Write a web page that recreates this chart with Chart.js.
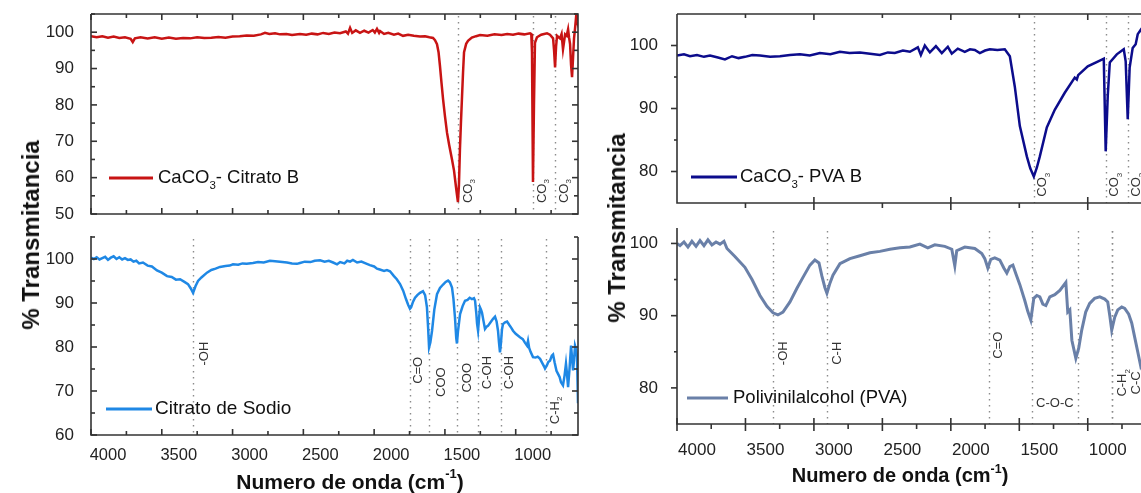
<!DOCTYPE html>
<html>
<head>
<meta charset="utf-8">
<script src="https://cdn.jsdelivr.net/npm/chart.js@4.4.0/dist/chart.umd.min.js"></script>
<style>
html, body { margin: 0; padding: 0; background: #fff; overflow: hidden; width: 1141px; height: 493px; }
body { position: relative; }
canvas { position: absolute; }
.title { position: absolute; font-family: "Liberation Sans", Arial, sans-serif; font-weight: bold; color: #111; white-space: nowrap; line-height: 1; }
.ytitle { transform: translate(-50%, -50%) rotate(-90deg); font-size: 24px; }
.xtitle { transform: translate(-50%, -50%); font-size: 21px; }
.title sup { font-size: 0.62em; position: relative; top: -0.2em; vertical-align: super; }
</style>
</head>
<body>
<canvas id="tl" width="600" height="225" style="left:0;top:0"></canvas>
<canvas id="bl" width="600" height="250" style="left:0;top:225px"></canvas>
<canvas id="tr" width="570" height="225" style="left:600px;top:0"></canvas>
<canvas id="br" width="570" height="260" style="left:600px;top:215px"></canvas>
<div class="title ytitle" style="left:31px;top:235px">% Transmitancia</div>
<div class="title ytitle" style="left:617px;top:228px">% Transmitancia</div>
<div class="title xtitle" style="left:350px;top:481px">Numero de onda (cm<sup>-1</sup>)</div>
<div class="title xtitle" style="left:900px;top:475px;font-size:20px">Numero de onda (cm<sup>-1</sup>)</div>
<script>
'use strict';

// ---- spectra: wavenumber (cm-1) / % transmittance ----
var citratoB_wn = [4000,3960,3920,3880,3840,3800,3760,3720,3705,3690,3650,3600,3550,3500,3450,3400,3350,3300,3250,3200,3150,3100,3050,3000,2950,2900,2850,2800,2771,2740,2700,2665,2620,2580,2524,2480,2440,2400,2360,2320,2280,2241,2200,2185,2170,2155,2130,2100,2070,2040,2010,1995,1980,1965,1958,1930,1900,1860,1830,1796,1760,1720,1676,1640,1610,1584,1570,1556,1545,1535,1524,1513,1500,1485,1470,1450,1436,1422,1414,1408,1401,1394,1387,1380,1372,1365,1350,1337,1310,1280,1252,1200,1150,1100,1060,1019,980,940,899,890,885,878,871,864,850,820,779,758,736,729,722,715,708,697,687,676,666,658,651,640,630,623,616,609,602,595,588,581,574,567,560];
var citratoB_t = [98.9,98.6,98.9,98.5,98.8,98.4,98.6,98.2,97.3,98.3,98.6,98.3,98.6,98.2,98.5,98.2,98.4,98.3,98.6,98.4,98.5,98.7,98.5,98.8,98.9,99.1,99.0,99.4,99.8,99.5,99.7,99.4,99.5,99.2,99.5,99.3,99.6,99.4,99.8,99.5,99.9,99.7,100.2,99.6,101.2,99.8,100.5,99.8,100.4,99.9,100.6,99.9,100.9,99.8,100.3,99.5,99.8,99.3,99.6,99.0,99.3,99.0,98.8,98.9,98.6,98.4,97.8,96.7,94.5,90.7,86,81.5,77,72.3,69,65,62,57.5,55,53.3,58,67.7,75,81.5,89,94.5,96.8,97.6,98.5,98.9,99.2,99.0,99.4,99.2,99.5,99.3,99.6,99.4,99.7,99.5,94.5,58.8,80,97.1,98.6,99.3,99.7,99.3,98.3,95,90.3,96,99.0,98.6,98.3,99.5,95.3,97.5,99.4,99.0,100.8,98.5,96.7,91,87.6,93,98.3,101,104,103,106.5];

var sodio_wn = [4000,3980,3960,3940,3920,3900,3880,3860,3840,3820,3800,3780,3760,3740,3720,3700,3680,3660,3633,3600,3570,3534,3500,3463,3430,3400,3371,3340,3315,3295,3279,3262,3244,3220,3181,3150,3120,3089,3050,3020,2997,2960,2930,2900,2856,2820,2780,2736,2700,2665,2616,2580,2545,2524,2490,2450,2420,2382,2350,2320,2290,2262,2240,2210,2190,2170,2150,2120,2090,2060,2030,2000,1980,1960,1930,1910,1888,1860,1840,1817,1795,1775,1760,1747,1739,1725,1711,1695,1676,1655,1640,1627,1619,1612,1603,1591,1575,1556,1535,1513,1495,1478,1465,1450,1440,1429,1420,1415,1408,1393,1375,1358,1340,1325,1309,1295,1287,1278,1273,1266,1259,1252,1245,1238,1228,1217,1206,1196,1180,1160,1146,1135,1125,1118,1111,1104,1097,1090,1075,1061,1045,1030,1019,1000,985,970,950,935,920,913,905,895,878,860,845,828,815,800,793,780,770,758,745,736,725,712,701,690,680,666,655,645,638,630,620,609,602,595,588,581,574,567,560];
var sodio_t = [100.3,100.0,100.4,99.9,100.2,100.5,99.8,100.3,100.6,100.0,100.4,99.9,100.2,99.8,99.9,99.4,99.6,99.0,99.2,98.5,98.3,97.4,96.9,96.1,95.9,95.3,95.4,94.8,94.3,93.3,92.3,93.8,95.0,95.8,96.9,97.5,97.8,98.2,98.4,98.5,98.8,98.7,99.0,98.9,99.1,99.3,99.2,99.6,99.5,99.4,99.2,99.0,98.9,99.1,99.4,99.3,99.6,99.7,99.4,99.6,99.2,98.8,99.3,99.0,99.6,99.4,99.8,99.2,99.4,99.0,98.6,98.3,97.8,97.6,97.3,97.5,97.2,96.1,95.4,94.3,92.8,90.9,89.6,88.7,89.0,90.3,91.2,91.8,92.3,92.7,91.8,89.0,84.5,79.9,81.0,83.7,88.5,92,93.4,94.2,94.8,95.1,94.7,93.5,91.0,86.7,82.0,80.8,83.5,87.5,89.3,90.5,90.7,91.2,90.9,91.1,90.5,87.5,85.3,83.7,86.5,89.0,88.5,87.8,86.0,84.1,84.6,84.8,85.5,86.4,86.9,85.8,83.7,81.0,78.8,81.0,84.0,85.2,85.6,85.8,85.0,84.3,83.7,83.0,82.6,82.2,81.8,81.0,80.3,81.4,79.8,78.9,77.7,77.6,77.8,77.3,76.5,75.6,75.1,75.8,76.6,76.9,78.0,78.3,76.5,74.6,73.9,73.2,72.0,71.3,73.5,76.2,74.0,70.9,75.0,80.3,77.5,74.7,77.0,80.3,79.5,77.7,67.2];

var pvaB_wn = [4000,3949,3905,3854,3803,3759,3701,3650,3598,3550,3504,3450,3394,3320,3248,3175,3102,3030,2956,2880,2810,2740,2664,2590,2518,2460,2409,2350,2299,2241,2219,2190,2153,2109,2066,2022,1993,1949,1898,1860,1825,1788,1750,1715,1660,1606,1569,1533,1496,1445,1420,1394,1372,1350,1299,1241,1168,1095,1080,1070,1000,912,883,869,854,839,788,737,723,708,694,672,650,635,613,584];
var pvaB_t = [98.4,98.6,98.3,98.5,98.2,98.4,98.1,97.8,98.3,98.0,98.2,98.5,98.4,98.2,98.3,98.5,98.6,98.4,98.8,98.6,99.0,98.8,98.9,98.7,98.5,98.9,98.8,99.2,99.0,99.7,98.5,100.0,98.9,99.9,98.8,99.8,98.7,99.5,99.0,99.4,99.3,98.8,99.2,99.4,99.3,99.4,98.3,93.5,87.2,82.4,80.5,79.2,80.6,82.4,87.0,89.8,92.5,94.9,94.6,95.3,96.7,97.6,97.9,83.2,92,97.3,98.6,99.4,97.5,88.3,96.5,99.6,100.2,101.8,102.5,101.5];

var pva_wn = [4000,3978,3949,3920,3891,3861,3832,3803,3774,3745,3715,3686,3657,3635,3577,3504,3452,3394,3343,3299,3263,3226,3175,3124,3080,3029,2993,2963,2942,2920,2905,2883,2861,2810,2737,2664,2591,2518,2445,2372,2299,2226,2168,2117,2044,1993,1971,1957,1898,1825,1774,1752,1730,1708,1679,1642,1613,1591,1569,1547,1525,1496,1460,1438,1416,1394,1372,1350,1328,1306,1277,1241,1204,1160,1146,1131,1116,1087,1066,1044,1015,986,950,912,876,854,839,825,803,781,752,730,701,679,657,635,613,584];
var pva_t = [100.0,99.7,100.2,99.5,100.3,99.6,100.4,99.7,100.5,99.8,100.2,99.9,100.3,99.3,98.2,96.7,95.0,92.8,91.3,90.4,90.1,90.5,91.9,93.8,95.3,97.0,97.7,97.3,95.5,93.9,93.1,94.5,95.6,97.2,97.9,98.3,98.7,98.9,99.2,99.4,99.5,99.9,99.4,99.8,99.6,99.2,96.9,99.0,99.5,99.3,98.6,97.9,96.6,97.8,98.0,97.7,96.6,95.9,96.8,97.0,95.8,94.3,92.1,90.6,89.4,92.4,92.8,92.6,91.6,91.4,92.6,92.9,93.5,94.6,90.5,90.8,86.6,84.1,85.5,88.0,90.5,91.7,92.4,92.6,92.3,91.9,90.0,88.0,89.8,90.8,91.2,91.0,90.2,89.0,87.0,85.0,83.0,84.0];

// ---- band markers (cm-1) and their names ----
var citratoB_peaks = [1408, 878, 722];
var citratoB_names = ['CO_3', 'CO_3', 'CO_3'];
var sodio_peaks = [3279, 1747, 1612, 1415, 1266, 1104, 786];
var sodio_names = ['-OH', 'C=O', 'COO', 'COO', 'C-OH', 'C-OH', 'C-H_2'];
var pvaB_peaks = [1394, 869, 708];
var pvaB_names = ['CO_3', 'CO_3', 'CO_3'];
var pva_peaks = [3299, 2905, 1722, 1408, 1073, 825, 825];
var pva_names = ['-OH', 'C-H', 'C=O', 'C-O-C', '', 'C-H_2', 'C-C'];

// ---- ticks ----
var xLabelTicks = [4000, 3500, 3000, 2500, 2000, 1500, 1000];
var xMinorTicks = [3750, 3250, 2750, 2250, 1750, 1250, 750];
var xMajorTopRight = [3000, 2000, 1000];
var xMinorTopRight = [3500, 2500, 1500];
var yTicksTL = [50, 60, 70, 80, 90, 100];
var yMinorTL = [55, 65, 75, 85, 95, 105];
var yTicksBL = [60, 70, 80, 90, 100];
var yMinorBL = [65, 75, 85, 95, 105];
var yTicksR = [80, 90, 100];
var yMinorR = [85, 95];

var FONT = '"Liberation Sans", Arial, sans-serif';
var panels = {};   // per-canvas settings, read by the decor plugin

function splitSub(s) {
    var out = [];
    for (var i = 0; i < s.length; i++) {
        var sub = s[i] === '_';
        if (sub) i++;
        var last = out[out.length - 1];
        if (last && !last.sub && !sub) last.t += s[i];
        else out.push({ t: s[i], sub: sub });
    }
    return out;
}

// text with '_x' subscripts, vertically centred on y
function drawRich(ctx, s, x, y, size, center) {
    var parts = splitSub(s), w = 0;
    parts.forEach(function (p) {
        ctx.font = (p.sub ? size * 0.62 : size) + 'px ' + FONT;
        p.w = ctx.measureText(p.t).width;
        w += p.w;
    });
    var cx = center ? x - w / 2 : x;
    ctx.textAlign = 'left';
    ctx.textBaseline = 'middle';
    parts.forEach(function (p) {
        ctx.font = (p.sub ? size * 0.62 : size) + 'px ' + FONT;
        ctx.fillText(p.t, cx, y + (p.sub ? size * 0.4 : 0));
        cx += p.w;
    });
}

function seg(ctx, x1, y1, x2, y2) {
    ctx.beginPath(); ctx.moveTo(x1, y1); ctx.lineTo(x2, y2); ctx.stroke();
}

var panelDecor = {
    id: 'panelDecor',
    beforeDatasetsDraw: function (chart) {
        var o = panels[chart.canvas.id];
        var ctx = chart.ctx, a = chart.chartArea, xs = chart.scales.x;
        ctx.save();
        ctx.strokeStyle = '#8c8c8c';
        ctx.lineWidth = 1.4;
        ctx.setLineDash([1.5, 4.5]);
        o.peaks.forEach(function (p) {
            var px = Math.round(xs.getPixelForValue(p)) + 0.5;
            seg(ctx, px, a.top + 2, px, a.bottom);
        });
        ctx.restore();
    },
    afterDraw: function (chart) {
        var o = panels[chart.canvas.id];
        var ctx = chart.ctx, a = chart.chartArea, xs = chart.scales.x, ys = chart.scales.y;
        ctx.save();
        // band labels
        ctx.fillStyle = '#333';
        o.peaks.forEach(function (p, i) {
            var name = o.names[i];
            if (!name) return;
            var lay = o.labelLayout[i];
            var px = xs.getPixelForValue(p) + lay.dx, py = ys.getPixelForValue(lay.t);
            if (lay.flat === true) { drawRich(ctx, name, px, py, 13, true); return; }
            ctx.save();
            ctx.translate(px, py);
            ctx.rotate(-Math.PI / 2);
            drawRich(ctx, name, 0, 0, 13, true);
            ctx.restore();
        });
        // frame
        ctx.strokeStyle = '#333';
        ctx.lineWidth = 1.6;
        ctx.beginPath();
        ctx.moveTo(a.left, a.top - (o.frameTop ? 0 : 1));
        ctx.lineTo(a.left, a.bottom);
        ctx.lineTo(a.right, a.bottom);
        ctx.lineTo(a.right, a.top);
        if (o.frameTop) ctx.lineTo(a.left, a.top);
        ctx.stroke();
        // tick marks
        var inside = o.tickDir === 'in';
        o.xMajor.forEach(function (v) {
            var p = xs.getPixelForValue(v);
            if (p < a.left - 1 || p > a.right + 1) return;
            if (inside) seg(ctx, p, a.bottom, p, a.bottom - 6);
            else seg(ctx, p, a.bottom - 6, p, a.bottom + 7);
            if (o.frameTop) seg(ctx, p, a.top, p, a.top + 6);
        });
        o.xMinor.forEach(function (v) {
            var p = xs.getPixelForValue(v);
            if (p < a.left - 1 || p > a.right + 1) return;
            if (inside) seg(ctx, p, a.bottom, p, a.bottom - 4);
            else seg(ctx, p, a.bottom, p, a.bottom + 5);
            if (o.frameTop) seg(ctx, p, a.top, p, a.top + 4);
        });
        o.yTicks.forEach(function (v) {
            var p = ys.getPixelForValue(v);
            if (inside) { seg(ctx, a.left, p, a.left + 6, p); seg(ctx, a.right, p, a.right - 6, p); }
            else { seg(ctx, a.left - 6, p, a.left, p); seg(ctx, a.right, p, a.right + 6, p); }
        });
        o.yMinor.forEach(function (v) {
            var p = ys.getPixelForValue(v);
            if (inside) { seg(ctx, a.left, p, a.left + 4, p); seg(ctx, a.right, p, a.right - 4, p); }
            else { seg(ctx, a.left - 3, p, a.left, p); seg(ctx, a.right, p, a.right + 3, p); }
        });
        // legend
        var lg = o.legend, ly = a.bottom - lg.dy;
        ctx.strokeStyle = o.color;
        ctx.lineWidth = 3;
        seg(ctx, a.left + lg.x0, ly, a.left + lg.x1, ly);
        ctx.fillStyle = '#111';
        drawRich(ctx, lg.text, a.left + lg.tx, ly, lg.size, false);
        ctx.restore();
    }
};

function pairs(xs, ys) {
    return xs.map(function (v, i) { return { x: v, y: ys[i] }; });
}

function makePanel(id, p) {
    panels[id] = p;
    return new Chart(document.getElementById(id), {
        type: 'line',
        data: {
            datasets: [{
                data: pairs(p.wn, p.t),
                borderColor: p.color,
                borderWidth: p.width,
                pointRadius: 0,
                tension: 0,
                clip: 0
            }]
        },
        options: {
            responsive: false,
            animation: false,
            events: [],
            layout: { padding: { top: p.padTop, right: p.padRight, left: 0, bottom: 0 } },
            plugins: { legend: { display: false }, tooltip: { enabled: false } },
            scales: {
                x: {
                    type: 'linear', reverse: true, min: 560, max: 4000,
                    grid: { display: false }, border: { display: false },
                    ticks: {
                        display: p.xLabels, color: '#222', font: { family: FONT, size: p.xFont },
                        padding: p.xPad, labelOffset: p.xOff, maxRotation: 0, autoSkip: false,
                        callback: function (v) { return String(v); }
                    },
                    afterBuildTicks: function (s) { s.ticks = xLabelTicks.map(function (v) { return { value: v }; }); },
                    afterFit: function (s) { s.height = p.xH; s.paddingLeft = 0; s.paddingRight = 0; }
                },
                y: {
                    min: p.ymin, max: p.ymax,
                    grid: { display: false }, border: { display: false },
                    ticks: {
                        color: '#222', font: { family: FONT, size: 17 }, padding: p.yPad,
                        callback: function (v) { return String(v); }
                    },
                    afterBuildTicks: function (s) { s.ticks = p.yTicks.map(function (v) { return { value: v }; }); },
                    afterFit: function (s) { s.width = p.yW; s.paddingTop = 0; s.paddingBottom = 0; }
                }
            }
        },
        plugins: [panelDecor]
    });
}

makePanel('tl', {
    wn: citratoB_wn, t: citratoB_t, color: '#c81414', width: 2.5,
    peaks: citratoB_peaks, names: citratoB_names,
    labelLayout: [{ dx: 10, t: 56.3 }, { dx: 9, t: 56.3 }, { dx: 9, t: 56.3 }],
    ymin: 50, ymax: 105, yTicks: yTicksTL, yMinor: yMinorTL,
    xMajor: xLabelTicks, xMinor: xMinorTicks, xLabels: false,
    frameTop: true, tickDir: 'in',
    padTop: 14, padRight: 22, yW: 91, xH: 11, yPad: 9, xPad: 3, xOff: 17, xFont: 16.5,
    legend: { x0: 18, x1: 62, tx: 67, dy: 36, size: 18.5, text: 'CaCO_3- Citrato B' }
});

makePanel('bl', {
    wn: sodio_wn, t: sodio_t, color: '#1f88e5', width: 2.5,
    peaks: sodio_peaks, names: sodio_names,
    labelLayout: [{ dx: 11, t: 78.5 }, { dx: 8, t: 74.7 }, { dx: 12, t: 72 }, { dx: 10, t: 73 },
                  { dx: 9, t: 74.2 }, { dx: 8, t: 74.2 }, { dx: 9, t: 65.6 }],
    ymin: 60, ymax: 105, yTicks: yTicksBL, yMinor: yMinorBL,
    xMajor: xLabelTicks, xMinor: xMinorTicks, xLabels: true,
    frameTop: false, tickDir: 'in',
    padTop: 12, padRight: 22, yW: 91, xH: 40, yPad: 9, xPad: 3, xOff: 17, xFont: 16.5,
    legend: { x0: 15, x1: 61, tx: 64, dy: 26, size: 19, text: 'Citrato de Sodio' }
});

makePanel('tr', {
    wn: pvaB_wn, t: pvaB_t, color: '#0c0c8c', width: 2.5,
    peaks: pvaB_peaks, names: pvaB_names,
    labelLayout: [{ dx: 9, t: 77.9 }, { dx: 9, t: 77.9 }, { dx: 9, t: 77.9 }],
    ymin: 75, ymax: 105, yTicks: yTicksR, yMinor: yMinorR,
    xMajor: xMajorTopRight, xMinor: xMinorTopRight, xLabels: false,
    frameTop: true, tickDir: 'out',
    padTop: 14, padRight: 22, yW: 77, xH: 22, yPad: 11, xPad: 8, xOff: 20, xFont: 17,
    legend: { x0: 14, x1: 60, tx: 63, dy: 26, size: 18.5, text: 'CaCO_3- PVA B' }
});

makePanel('br', {
    wn: pva_wn, t: pva_t, color: '#6a80a8', width: 3,
    peaks: pva_peaks, names: pva_names,
    labelLayout: [{ dx: 10, t: 84.8 }, { dx: 10, t: 84.8 }, { dx: 10, t: 85.9 }, { dx: 23, t: 77.9, flat: true },
                  { dx: 0, t: 0 }, { dx: 11, t: 80.7 }, { dx: 25, t: 80.7 }],
    ymin: 75, ymax: 102, yTicks: yTicksR, yMinor: yMinorR,
    xMajor: xLabelTicks, xMinor: xMinorTicks, xLabels: true,
    frameTop: false, tickDir: 'out',
    padTop: 14, padRight: 22, yW: 77, xH: 51, yPad: 11, xPad: 8, xOff: 20, xFont: 17,
    legend: { x0: 10, x1: 51, tx: 56, dy: 26, size: 18.5, text: 'Polivinilalcohol (PVA)' }
});
</script>
</body>
</html>
